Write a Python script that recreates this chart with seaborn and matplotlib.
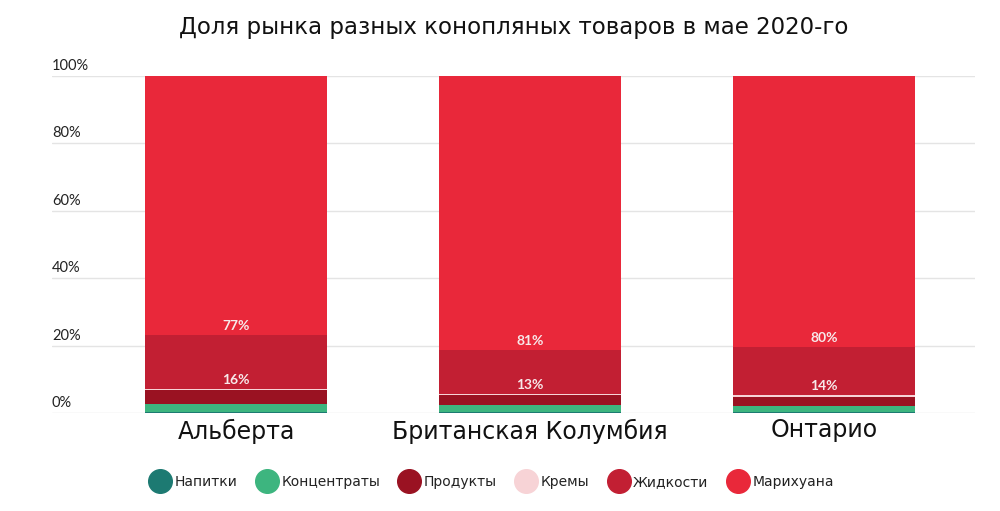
import numpy as np
import matplotlib
matplotlib.use('Agg')
import matplotlib.pyplot as plt
from matplotlib.lines import Line2D
import seaborn as sns

regions = ['Альберта', 'Британская Колумбия', 'Онтарио']
categories = ['Напитки', 'Концентраты', 'Продукты', 'Кремы', 'Жидкости', 'Марихуана']
colors = ['#1d7a72', '#3db57f', '#9a1222', '#f7d3d6', '#c21f33', '#e9283a']

napitki = [0.3, 0.4, 0.3]
koncentraty = [2.3, 2.0, 1.8]
produkty = [4.2, 2.8, 2.7]
kremy = [0.4, 0.5, 0.4]
zhidkosti = [16.0, 12.9, 14.4]
marihuana = [76.8, 81.4, 80.4]

series = [napitki, koncentraty, produkty, kremy, zhidkosti, marihuana]
labelled = {'Жидкости': zhidkosti, 'Марихуана': marihuana}

sns.set_theme(style='white')
plt.rcParams['font.family'] = ['DejaVu Sans']

fig, ax = plt.subplots(figsize=(10, 5.11), dpi=100)
fig.subplots_adjust(left=0.052, right=0.975, top=0.851, bottom=0.192)

cum = np.cumsum(np.array(series), axis=0)

# stacked bars: draw cumulative totals from the top down
for i in range(len(series) - 1, -1, -1):
    sns.barplot(x=regions, y=cum[i], color=colors[i], width=0.62,
                saturation=1, linewidth=0, ax=ax, zorder=3)

# percent labels inside the bars
for name, vals in labelled.items():
    idx = categories.index(name)
    bottoms = cum[idx] - np.array(vals)
    for j, v in enumerate(vals):
        ax.text(j, bottoms[j] + 2.7, f'{round(v)}%', ha='center', va='center',
                color='#f7e9ea', fontsize=10, fontweight='bold', zorder=5,
                family='Lato')

ax.set_ylim(0, 100)
ax.set_xlim(-0.626, 2.514)
ax.set_yticks([0, 20, 40, 60, 80, 100])
ax.set_yticklabels([])
ax.tick_params(axis='y', length=0)
ax.yaxis.grid(True, color='#e4e4e4', linewidth=1, zorder=0)
for yv in [0, 20, 40, 60, 80, 100]:
    ax.text(0.0, yv + 0.9, f'{yv}%', transform=ax.get_yaxis_transform(),
            ha='left', va='bottom', fontsize=10.5, color='#222222', family='Lato')

ax.tick_params(axis='x', length=0, pad=4, labelsize=17, labelcolor='#111111')
ax.set_xlabel('')
ax.set_ylabel('')
sns.despine(ax=ax, left=True, bottom=True)

ax.set_title('Доля рынка разных конопляных товаров в мае 2020-го',
             fontsize=16.5, color='#111111', pad=30)

handles = [Line2D([0], [0], marker='o', linestyle='', markersize=17,
                  markerfacecolor=c, markeredgecolor=c) for c in colors]
fig.legend(handles, categories, loc='center', bbox_to_anchor=(0.49, 0.057),
           ncol=6, frameon=False, fontsize=10, handletextpad=0.05,
           columnspacing=1.1, labelcolor='#222222')

fig.savefig('out.png', dpi=100)
